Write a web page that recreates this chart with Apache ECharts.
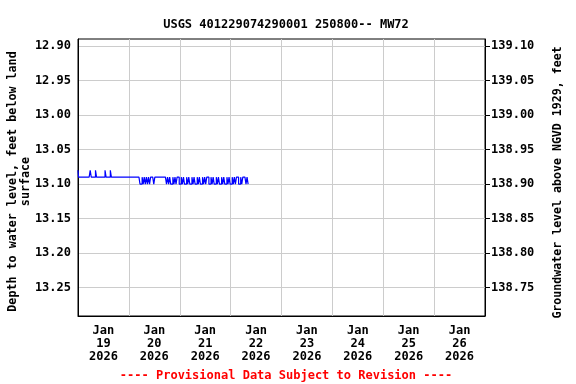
<!DOCTYPE html>
<html>
<head>
<meta charset="utf-8">
<script src="https://cdn.jsdelivr.net/npm/echarts@6/dist/echarts.min.js"></script>
<style>
html,body{margin:0;padding:0;background:#fff;}
#chart{width:576px;height:384px;}
</style>
</head>
<body>
<div id="chart"></div>
<script>
// ---- data ----
const titleText = 'USGS 401229074290001 250800-- MW72';
const footerText = '---- Provisional Data Subject to Revision ----';
const leftAxisName = 'Depth to water level, feet below land\nsurface';
const rightAxisName = 'Groundwater level above NGVD 1929, feet';
const dayLabels = ['Jan\n19\n2026','Jan\n20\n2026','Jan\n21\n2026','Jan\n22\n2026','Jan\n23\n2026','Jan\n24\n2026','Jan\n25\n2026','Jan\n26\n2026'];
const leftTicks = [12.90, 12.95, 13.00, 13.05, 13.10, 13.15, 13.20, 13.25];
const rightTicks = [138.75, 138.80, 138.85, 138.90, 138.95, 139.00, 139.05, 139.10];
const datumOffset = 152.00; // elevation = datumOffset - depth
const seriesStart = [2026, 0, 19, 0, 0]; // first reading; readings every 30 minutes
const axisStart = [2026, 0, 19];
const axisEnd = [2026, 0, 27];
const depthReadings = [
  13.08, 13.09, 13.09, 13.09, 13.09, 13.09, 13.09, 13.09, 13.09, 13.09, 13.09, 13.09,
  13.08, 13.09, 13.09, 13.09, 13.09, 13.08, 13.09, 13.09, 13.09, 13.09, 13.09, 13.09,
  13.09, 13.09, 13.08, 13.09, 13.09, 13.09, 13.09, 13.08,
  13.09, 13.09, 13.09, 13.09, 13.09, 13.09, 13.09, 13.09, 13.09, 13.09, 13.09, 13.09, 13.09, 13.09,
  13.09, 13.09, 13.09, 13.09, 13.09, 13.09, 13.09, 13.09, 13.09, 13.09, 13.09, 13.09, 13.09,
  13.10, 13.10, 13.09, 13.10, 13.09, 13.10, 13.09, 13.10,
  13.09, 13.10, 13.09, 13.09, 13.09, 13.10,
  13.09, 13.09, 13.09, 13.09, 13.09, 13.09, 13.09, 13.09, 13.09, 13.09, 13.09,
  13.10, 13.09, 13.10, 13.09, 13.10, 13.10, 13.09, 13.10, 13.09, 13.10, 13.09, 13.09,
  13.10, 13.10, 13.09, 13.10, 13.09, 13.10, 13.10, 13.09, 13.10, 13.09, 13.10, 13.10,
  13.09, 13.10, 13.09, 13.10, 13.10, 13.09, 13.10, 13.09, 13.10, 13.10, 13.09, 13.10,
  13.09, 13.10, 13.09, 13.09, 13.10, 13.10, 13.09, 13.10, 13.09, 13.10, 13.10, 13.09,
  13.10, 13.09, 13.10, 13.10, 13.09, 13.10, 13.09, 13.10, 13.10, 13.09, 13.10, 13.09,
  13.10, 13.10, 13.09, 13.10, 13.09, 13.10, 13.09, 13.09, 13.10, 13.10, 13.09, 13.10,
  13.09, 13.09, 13.09, 13.10, 13.09, 13.10
];

// ---- build ----
const t0 = new Date(...seriesStart).getTime();
const seriesData = depthReadings.map((v, i) => [t0 + i * 1800000, v]);
const xMin = new Date(...axisStart).getTime();
const xMax = new Date(...axisEnd).getTime();
const yMin = 12.89, yMax = 13.291;

const FONT = 'DejaVu Sans Mono';
const txt = {fontFamily: FONT, fontWeight: 'bold', fontSize: 12, color: '#000'};

const chart = echarts.init(document.getElementById('chart'), null, {renderer: 'canvas'});
chart.setOption({
  animation: false,
  backgroundColor: '#fff',
  title: [
    {text: titleText, left: 281, top: 14, textAlign: 'center',
     textStyle: Object.assign({}, txt)},
    {text: footerText, left: 281, top: 365, textAlign: 'center',
     textStyle: Object.assign({}, txt, {color: '#ff0000'})}
  ],
  grid: {left: 78, right: 91, top: 39, bottom: 68, containLabel: false, outerBoundsMode: 'none',
         show: true, borderColor: '#000', borderWidth: 1, backgroundColor: 'transparent'},
  xAxis: [
    {type: 'category', data: dayLabels, boundaryGap: true, position: 'bottom',
     axisLine: {show: true, lineStyle: {color: '#000', width: 1}},
     axisTick: {show: false},
     axisLabel: Object.assign({}, txt, {margin: 8, lineHeight: 13, interval: 0}),
     splitLine: {show: true, interval: 0, lineStyle: {color: '#cccccc', width: 1}}},
    {type: 'time', min: xMin, max: xMax, show: false}
  ],
  yAxis: [
    {type: 'value', inverse: true, min: yMin, max: yMax, position: 'left',
     axisLine: {show: true, lineStyle: {color: '#000'}},
     axisTick: {show: false, customValues: leftTicks},
     axisLabel: Object.assign({}, txt, {customValues: leftTicks, margin: 7, formatter: v => v.toFixed(2)}),
     splitLine: {show: true, lineStyle: {color: '#cccccc', width: 1}},
     name: leftAxisName, nameLocation: 'middle', nameRotate: 90, nameGap: 46, nameMoveOverlap: false,
     nameTextStyle: Object.assign({}, txt, {fontSize: 11.7, lineHeight: 13, align: 'center', padding: [0, 8, 0, 0]})},
    {type: 'value', min: datumOffset - yMax, max: datumOffset - yMin, position: 'right',
     axisLine: {show: true, lineStyle: {color: '#000'}},
     axisTick: {show: true, inside: false, length: 5, customValues: rightTicks, lineStyle: {color: '#000'}},
     axisLabel: Object.assign({}, txt, {customValues: rightTicks, margin: 6, formatter: v => v.toFixed(2)}),
     splitLine: {show: false},
     name: rightAxisName, nameLocation: 'middle', nameRotate: 90, nameGap: 67, nameMoveOverlap: false,
     nameTextStyle: Object.assign({}, txt, {fontSize: 11.6, padding: [0, 10, 0, 0]})}
  ],
  series: [{
    type: 'line', xAxisIndex: 1, yAxisIndex: 0, step: 'middle',
    data: seriesData, showSymbol: false, symbol: 'none',
    lineStyle: {color: '#0000ff', width: 1.2}
  }]
});
</script>
</body>
</html>
